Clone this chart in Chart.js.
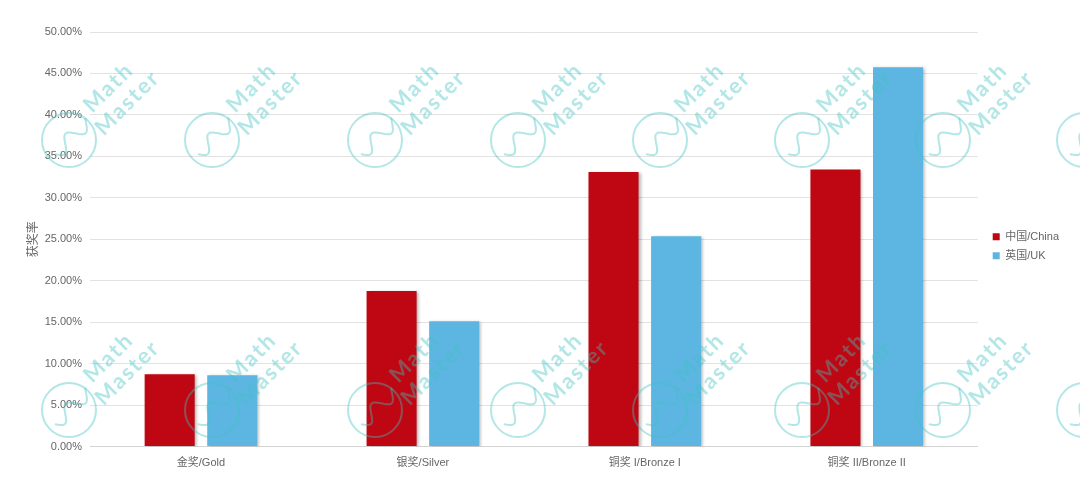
<!DOCTYPE html>
<html lang="zh">
<head>
  <meta charset="UTF-8" />
  <title>获奖率</title>
  <script src="https://cdn.jsdelivr.net/npm/chart.js"></script>
  <style>
    html, body { margin: 0; padding: 0; background: #fff; }
    #wrap { width: 1080px; height: 502px; position: relative; }
  </style>
</head>
<body>
  <div id="wrap"><canvas id="awardChart"></canvas></div>

  <script>
    const categories = ["金奖/Gold", "银奖/Silver", "铜奖 I/Bronze I", "铜奖 II/Bronze II"];
    const seriesNames = ["中国/China", "英国/UK"];
    const chinaRates = [8.73, 18.75, 33.1, 33.4];
    const ukRates = [8.6, 15.1, 25.35, 45.75];
    const yTicks = [0, 5, 10, 15, 20, 25, 30, 35, 40, 45, 50];

    const FONT = "'Liberation Sans', 'Noto Sans CJK SC', sans-serif";
    const wmX = [69, 212, 375, 518, 660, 802, 943, 1084];
    const wmY = [140, 410];

    // soft shadow under the bars
    const barShadow = {
      id: 'barShadow',
      beforeDatasetsDraw(chart) {
        const ctx = chart.ctx;
        ctx.save();
        ctx.shadowColor = 'rgba(0,0,0,0.28)';
        ctx.shadowBlur = 3;
        ctx.shadowOffsetX = 2;
        ctx.shadowOffsetY = 1;
      },
      afterDatasetsDraw(chart) {
        chart.ctx.restore();
      }
    };

    // legend sits a bit further right and higher than chart.js puts it
    const legendNudge = {
      id: 'legendNudge',
      afterInit(chart) {
        const lg = chart.legend;
        if (!lg || lg._nudged) return;
        lg._nudged = true;
        const fit = lg.fit.bind(lg);
        lg.fit = function () { fit(); this.width += 8; };
        const draw = lg.draw.bind(lg);
        lg.draw = function () {
          const c = this.ctx;
          c.save();
          c.translate(7, -13);
          draw();
          c.restore();
        };
      }
    };

    // "Math Master" watermark stamps
    const watermark = {
      id: 'watermark',
      afterDraw(chart) {
        const ctx = chart.ctx;
        ctx.save();
        ctx.globalAlpha = 0.4;
        ctx.strokeStyle = '#40c0c0';
        ctx.fillStyle = '#40c0c0';
        ctx.lineWidth = 2;
        wmY.forEach(cy => {
          wmX.forEach(cx => {
            ctx.save();
            ctx.translate(cx, cy);
            ctx.beginPath();
            ctx.arc(0, 0, 27, 0, Math.PI * 2);
            ctx.stroke();
            ctx.rotate(-Math.PI / 4);
            ctx.beginPath();
            for (let t = -20; t <= 27; t += 1) {
              const y = Math.sin((t + 20) / 47 * Math.PI * 3.2) * 7;
              if (t === -20) ctx.moveTo(t, y); else ctx.lineTo(t, y);
            }
            ctx.stroke();
            ctx.font = "bold 22px Lato, sans-serif";
            if ('letterSpacing' in ctx) ctx.letterSpacing = '2px';
            ctx.textBaseline = 'alphabetic';
            ctx.fillText('Math', 35, -2);
            ctx.fillText('Master', 27, 22);
            ctx.restore();
          });
        });
        ctx.restore();
      }
    };

    const ctx = document.getElementById('awardChart').getContext('2d');
    new Chart(ctx, {
      type: 'bar',
      data: {
        labels: categories,
        datasets: [
          { label: seriesNames[0], data: chinaRates, backgroundColor: '#be0712', borderWidth: 0 },
          { label: seriesNames[1], data: ukRates, backgroundColor: '#5cb6e1', borderWidth: 0 }
        ]
      },
      options: {
        responsive: true,
        maintainAspectRatio: false,
        animation: false,
        categoryPercentage: 0.564,
        barPercentage: 0.8,
        layout: { padding: { left: 20, right: 10, top: 32, bottom: 15.5 } },
        plugins: {
          tooltip: { enabled: false },
          legend: {
            position: 'right',
            labels: {
              boxWidth: 7,
              boxHeight: 7,
              padding: 8,
              color: '#666',
              font: { family: FONT, size: 11 }
            }
          }
        },
        scales: {
          x: {
            grid: { display: false },
            border: { color: '#d4d4d4' },
            afterFit: axis => { axis.height = 40; },
            ticks: { color: '#666', padding: 2, font: { family: FONT, size: 11 } }
          },
          y: {
            min: 0,
            max: 50,
            afterBuildTicks: axis => { axis.ticks = yTicks.map(v => ({ value: v })); },
            afterFit: axis => { axis.width = 70; },
            grid: { color: '#e2e2e2', drawTicks: false },
            border: { display: false },
            ticks: {
              color: '#666',
              padding: 8,
              font: { family: FONT, size: 11 },
              callback: v => v.toFixed(2) + '%'
            },
            title: {
              display: true,
              text: '获奖率',
              color: '#666',
              padding: { top: 6, bottom: 0 },
              font: { family: FONT, size: 12 }
            }
          }
        }
      },
      plugins: [barShadow, legendNudge, watermark]
    });
  </script>
</body>
</html>
